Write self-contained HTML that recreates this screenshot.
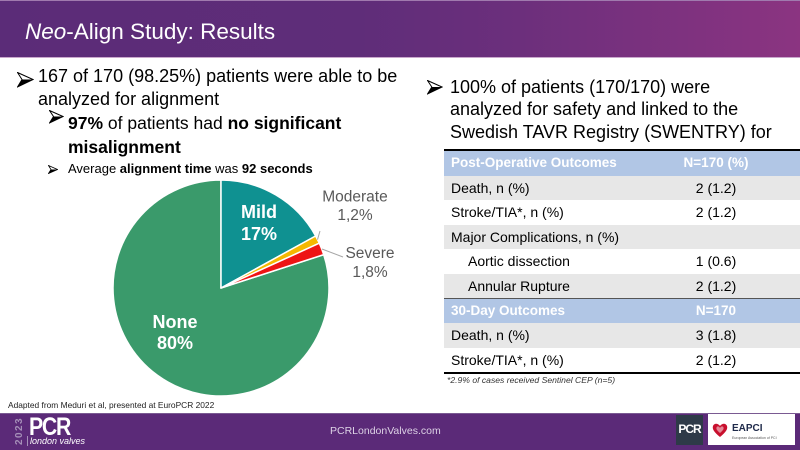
<!DOCTYPE html>
<html><head><meta charset="utf-8">
<style>
*{margin:0;padding:0;box-sizing:border-box}
html,body{width:800px;height:450px;overflow:hidden;background:#fff}
body{position:relative;font-family:"Liberation Sans",Arial,sans-serif;color:#000}
.a{position:absolute;white-space:nowrap}
.hdr{position:absolute;left:0;top:0;width:800px;height:58px;background:linear-gradient(90deg,#5b2c78 0%,#5f2d79 45%,#6c2f7c 65%,#8b3481 100%);border-top:1px solid #a07aae;border-bottom:1.5px solid #c9a8cc}
.row{position:absolute;left:444px;width:356px;height:24.6px;font-size:14px;line-height:24.6px}
.row .c1{position:absolute;left:7px;top:0}
.row .c2{position:absolute;left:272px;width:0;top:0;text-align:center}
.row .c2 span{position:absolute;left:-50px;width:100px;text-align:center}
.g{background:#e7e7e7}
.bl{background:#b1c6e5;color:#fff;font-weight:bold;font-size:13.5px}
.foot{position:absolute;left:0;top:413px;width:800px;height:37px;background:#5b2a78;border-top:1px solid #7a5a92}
</style></head><body>

<div class="hdr"></div>
<div class="a" style="left:25px;top:17.5px;font-size:22.5px;line-height:28px;color:#fff"><i>Neo</i>-Align Study: Results</div>

<!-- left bullets -->
<svg class="a" style="left:17px;top:72px" width="17" height="16" viewBox="0 0 17 16"><polygon points="0.5,0.5 16,7.5 0.5,15 5,7.5" fill="#fff" stroke="#000" stroke-width="1"/><polygon points="5,7.5 16,7.5 0.5,15" fill="#000"/></svg>
<div class="a" style="left:38px;top:65.3px;font-size:18px;line-height:23px">167 of 170 (98.25%) patients were able to be<br>analyzed for alignment</div>

<svg class="a" style="left:49px;top:110px" width="15" height="14" viewBox="0 0 15 14"><polygon points="0.5,0.5 14,6.5 0.5,13 4.5,6.5" fill="#fff" stroke="#000" stroke-width="1"/><polygon points="4.5,6.5 14,6.5 0.5,13" fill="#000"/></svg>
<div class="a" style="left:68px;top:112.3px;font-size:17.5px;line-height:23.3px"><b>97%</b> of patients had <b>no significant</b><br><b>misalignment</b></div>

<svg class="a" style="left:48px;top:165px" width="10" height="9" viewBox="0 0 10 9"><polygon points="0.5,0.5 9.5,4.5 0.5,8.5 3,4.5" fill="#fff" stroke="#000" stroke-width="0.8"/><polygon points="3,4.5 9.5,4.5 0.5,8.5" fill="#000"/></svg>
<div class="a" style="left:68px;top:160.8px;font-size:13px;line-height:16px">Average <b>alignment time</b> was <b>92 seconds</b></div>

<!-- pie -->
<svg class="a" style="left:0;top:0" width="440" height="412" viewBox="0 0 440 412">
<g stroke="#fff" stroke-width="1.5" stroke-linejoin="round">
<path d="M221,288 L323.72,254.63 A108,108 0 1 1 221,180 Z" fill="#3a9a6b"/>
<path d="M221,288 L221,180 A108,108 0 0 1 315.64,235.97 Z" fill="#0f9191"/>
<path d="M221,288 L315.64,235.97 A108,108 0 0 1 319.29,243.24 Z" fill="#f5b800"/>
<path d="M221,288 L319.29,243.24 A108,108 0 0 1 323.72,254.63 Z" fill="#ee1515"/>
</g>
<line x1="317.5" y1="239.6" x2="320" y2="231" stroke="#a6a6a6" stroke-width="1"/>
<line x1="322" y1="249" x2="343" y2="257" stroke="#a6a6a6" stroke-width="1"/>
<g font-family="Liberation Sans, Arial, sans-serif" text-anchor="middle">
<text x="259" y="218" font-size="18" font-weight="bold" fill="#fff">Mild</text>
<text x="259" y="240" font-size="18" font-weight="bold" fill="#fff">17%</text>
<text x="175" y="328" font-size="18" font-weight="bold" fill="#fff">None</text>
<text x="175" y="349" font-size="18" font-weight="bold" fill="#fff">80%</text>
<text x="355" y="201.5" font-size="15.5" fill="#595959">Moderate</text>
<text x="355" y="220" font-size="15.5" fill="#595959">1,2%</text>
<text x="370" y="258" font-size="15.5" fill="#595959">Severe</text>
<text x="370" y="277" font-size="15.5" fill="#595959">1,8%</text>
</g>
</svg>

<div class="a" style="left:8px;top:399px;font-size:8.4px;line-height:12px;color:#222">Adapted from Meduri et al, presented at EuroPCR 2022</div>

<!-- right bullet -->
<svg class="a" style="left:427px;top:80px" width="16" height="15" viewBox="0 0 16 15"><polygon points="0.5,0.5 15,7 0.5,14 4.8,7" fill="#fff" stroke="#000" stroke-width="1"/><polygon points="4.8,7 15,7 0.5,14" fill="#000"/></svg>
<div class="a" style="left:450px;top:75.8px;font-size:18px;line-height:22.5px">100% of patients (170/170) were<br>analyzed for safety and linked to the<br>Swedish TAVR Registry (SWENTRY) for</div>

<!-- table -->
<div class="a" style="left:444px;top:149px;width:356px;height:2px;background:#000"></div>
<div class="row bl" style="top:151px"><div class="c1">Post-Operative Outcomes</div><div class="c2"><span>N=170 (%)</span></div></div>
<div class="row g" style="top:175.6px"><div class="c1">Death, n (%)</div><div class="c2"><span>2 (1.2)</span></div></div>
<div class="row" style="top:200.2px"><div class="c1">Stroke/TIA*, n (%)</div><div class="c2"><span>2 (1.2)</span></div></div>
<div class="row g" style="top:224.8px"><div class="c1">Major Complications, n (%)</div></div>
<div class="row" style="top:249.4px"><div class="c1" style="left:24px">Aortic dissection</div><div class="c2"><span>1 (0.6)</span></div></div>
<div class="row g" style="top:274px"><div class="c1" style="left:24px">Annular Rupture</div><div class="c2"><span>2 (1.2)</span></div></div>
<div class="row bl" style="top:298.6px"><div class="c1">30-Day Outcomes</div><div class="c2"><span>N=170</span></div></div>
<div class="a" style="left:444px;top:297.8px;width:356px;height:1.3px;background:#555"></div>
<div class="row g" style="top:323.2px"><div class="c1">Death, n (%)</div><div class="c2"><span>3 (1.8)</span></div></div>
<div class="row" style="top:347.8px"><div class="c1">Stroke/TIA*, n (%)</div><div class="c2"><span>2 (1.2)</span></div></div>
<div class="a" style="left:444px;top:371.5px;width:356px;height:2px;background:#000"></div>
<div class="a" style="left:447px;top:374px;font-size:8.6px;line-height:12px;font-style:italic;color:#333">*2.9% of cases received Sentinel CEP (n=5)</div>

<!-- footer -->
<div class="foot"></div>
<div class="a" style="left:6px;top:426px;width:28px;height:10px;transform:rotate(-90deg);transform-origin:center;font-size:10px;line-height:10px;font-weight:bold;letter-spacing:1.4px;color:#a58fb8;text-align:center">2023</div>
<div class="a" style="left:27px;top:436px;width:1px;height:10px;background:#a58fb8"></div>
<div class="a" style="left:29px;top:414px;font-size:25px;line-height:26px;font-weight:bold;color:#fff;letter-spacing:-1.5px;transform:scaleX(0.85);transform-origin:left center">PCR</div>
<div class="a" style="left:30px;top:436px;font-size:9px;line-height:11px;font-style:italic;color:#fff">london valves</div>
<div class="a" style="left:330px;top:425px;font-size:10.5px;line-height:13px;color:#ddd2e6">PCRLondonValves.com</div>

<div class="a" style="left:676px;top:415px;width:27px;height:30px;background:#2e3a48"></div>
<div class="a" style="left:676px;top:422px;width:27px;font-size:12px;line-height:14px;font-weight:bold;color:#fff;text-align:center;letter-spacing:-1px">PCR</div>
<div class="a" style="left:708px;top:414px;width:87px;height:31px;background:#fff"></div>
<svg class="a" style="left:712px;top:422px" width="16" height="16" viewBox="0 0 16 16"><path d="M8,15 C2,10 0,7 1,4 C2,1 6,1 8,4 C10,1 14,1 15,4 C16,7 14,10 8,15 Z" fill="#c8102e"/><path d="M8,11 C5,8.5 4,7 4.5,5.5 C5,4 7,4 8,6 C9,4 11,4 11.5,5.5 C12,7 11,8.5 8,11 Z" fill="#fff" opacity="0.5"/></svg>
<div class="a" style="left:732px;top:423px;font-size:10px;line-height:12px;font-weight:bold;color:#1f2a4a">EAPCI</div>
<div class="a" style="left:732px;top:436px;font-size:3.5px;line-height:4px;color:#555">European Association of PCI</div>

</body></html>
